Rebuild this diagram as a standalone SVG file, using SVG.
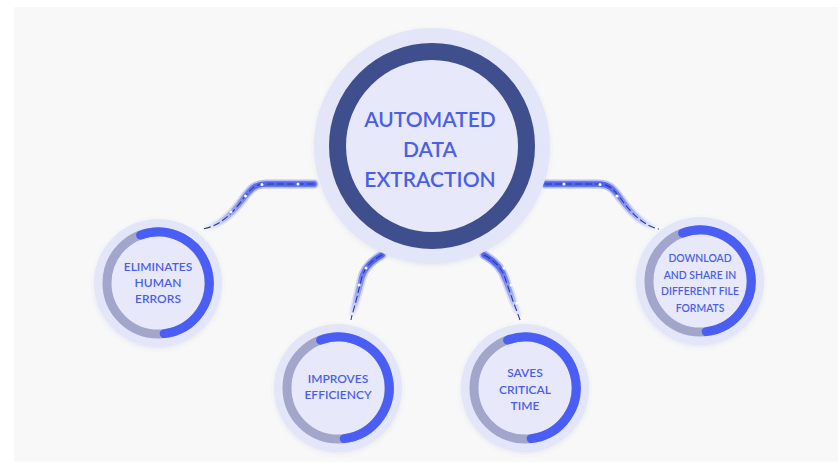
<svg xmlns="http://www.w3.org/2000/svg" width="838" height="471" viewBox="0 0 838 471">
<defs>
<filter id="sh" x="-20%" y="-20%" width="140%" height="140%">
<feDropShadow dx="0" dy="1.5" stdDeviation="2" flood-color="#5a64a0" flood-opacity="0.12"/>
</filter>
<linearGradient id="gL" gradientUnits="userSpaceOnUse" x1="262" y1="186" x2="205" y2="228">
<stop offset="0" stop-color="#5366f2" stop-opacity="1"/><stop offset="1" stop-color="#5366f2" stop-opacity="0"/>
</linearGradient>
<linearGradient id="gR" gradientUnits="userSpaceOnUse" x1="604" y1="186" x2="657" y2="228">
<stop offset="0" stop-color="#5366f2" stop-opacity="1"/><stop offset="1" stop-color="#5366f2" stop-opacity="0"/>
</linearGradient>
<linearGradient id="gBL" gradientUnits="userSpaceOnUse" x1="0" y1="262" x2="0" y2="318">
<stop offset="0" stop-color="#5366f2" stop-opacity="1"/><stop offset="1" stop-color="#5366f2" stop-opacity="0"/>
</linearGradient>
<linearGradient id="gBR" gradientUnits="userSpaceOnUse" x1="0" y1="262" x2="0" y2="318">
<stop offset="0" stop-color="#5366f2" stop-opacity="1"/><stop offset="1" stop-color="#5366f2" stop-opacity="0"/>
</linearGradient>
</defs>
<style>
.bg{fill:#f8f8f9}
.halo{fill:none;stroke-width:9;stroke-opacity:0.4;stroke-linecap:round}
.band{fill:none;stroke-width:5.5;stroke-linecap:round}
.dash{fill:none;stroke:#2d3c94;stroke-width:1.1;stroke-dasharray:7 3}
.dot{fill:#ffffff}
.outer{fill:#e3e5f8;filter:url(#sh)}
.inner{fill:#e7e9fb}
.ringbig{fill:none;stroke:#3f4e8d;stroke-width:17}
.gray{fill:none;stroke:#a2a6ca;stroke-width:9}
.blue{fill:none;stroke:#4a5ef6;stroke-width:9;stroke-linecap:round}
.t{font-family:Lato,"Liberation Sans",sans-serif;font-weight:600;fill:#4b5fe3;text-anchor:middle}
.tb{font-size:21px}
.ts{font-size:12px}
.tx{font-size:10.4px}
</style>
<rect width="838" height="471" fill="#ffffff"/>
<rect class="bg" x="14" y="7" width="824" height="455"/>
<g id="connectors">
<g id="c-left">
<path class="halo" stroke="url(#gL)" d="M314,184 L266,184 C254,184 250,190 243,199 C233,213 220,226 203,229"/>
<path class="band" stroke="url(#gL)" d="M314,184 L266,184 C254,184 250,190 243,199 C233,213 220,226 203,229"/>
<path class="dash" d="M314,184 L266,184 C254,184 250,190 243,199 C233,213 220,226 203,229"/>
<circle class="dot" cx="298" cy="184" r="1.5"/><circle class="dot" cx="262" cy="184.5" r="1.5"/><circle class="dot" cx="245.5" cy="196" r="1.5"/><circle class="dot" cx="231" cy="212" r="1.5"/>
</g>
<g id="c-right">
<path class="halo" stroke="url(#gR)" d="M545,184 L598,184 C610,184 614,190 621,199 C631,213 644,226 659,229"/>
<path class="band" stroke="url(#gR)" d="M545,184 L598,184 C610,184 614,190 621,199 C631,213 644,226 659,229"/>
<path class="dash" d="M545,184 L598,184 C610,184 614,190 621,199 C631,213 644,226 659,229"/>
<circle class="dot" cx="564" cy="184" r="1.5"/><circle class="dot" cx="600" cy="184.5" r="1.5"/><circle class="dot" cx="617" cy="196" r="1.5"/>
</g>
<g id="c-bl">
<path class="halo" stroke="url(#gBL)" d="M382,255 C369,262 363,270 361,281 L356,301 C354,309 352,314 351,320"/>
<path class="band" stroke="url(#gBL)" d="M382,255 C369,262 363,270 361,281 L356,301 C354,309 352,314 351,320"/>
<path class="dash" d="M382,255 C369,262 363,270 361,281 L356,301 C354,309 352,314 351,320"/>
<circle class="dot" cx="366" cy="268" r="1.5"/><circle class="dot" cx="359" cy="285" r="1.5"/>
</g>
<g id="c-br">
<path class="halo" stroke="url(#gBR)" d="M484,255 C497,262 503,270 506,281 L513,301 C516,309 518,314 520,320"/>
<path class="band" stroke="url(#gBR)" d="M484,255 C497,262 503,270 506,281 L513,301 C516,309 518,314 520,320"/>
<path class="dash" d="M484,255 C497,262 503,270 506,281 L513,301 C516,309 518,314 520,320"/>
<circle class="dot" cx="504" cy="268" r="1.5"/><circle class="dot" cx="511" cy="285" r="1.5"/><circle class="dot" cx="517" cy="303" r="1.5"/>
</g>
</g>
<g id="n-center">
<circle class="outer" cx="432" cy="146" r="118"/>
<circle class="inner" cx="432" cy="146" r="86"/>
<circle class="ringbig" cx="432" cy="146" r="94.5"/>
<text class="t tb" x="430" y="126.7">AUTOMATED</text>
<text class="t tb" x="430" y="156.7">DATA</text>
<text class="t tb" x="430" y="186.7">EXTRACTION</text>
</g>
<g id="n-errors">
<circle class="outer" cx="158" cy="283" r="64"/>
<circle class="inner" cx="158" cy="283" r="47"/>
<circle class="gray" cx="158" cy="283" r="51"/>
<path class="blue" d="M140.6,235.1 A51,51 0 1 1 164.2,333.6"/>
<text class="t ts" x="158" y="270.5">ELIMINATES</text>
<text class="t ts" x="158" y="286.5">HUMAN</text>
<text class="t ts" x="158" y="302.5">ERRORS</text>
</g>
<g id="n-efficiency">
<circle class="outer" cx="338" cy="388" r="64"/>
<circle class="inner" cx="338" cy="388" r="47"/>
<circle class="gray" cx="338" cy="388" r="51"/>
<path class="blue" d="M320.6,340.1 A51,51 0 1 1 344.2,438.6"/>
<text class="t ts" x="338" y="383">IMPROVES</text>
<text class="t ts" x="338" y="399">EFFICIENCY</text>
</g>
<g id="n-time">
<circle class="outer" cx="525" cy="388" r="64"/>
<circle class="inner" cx="525" cy="388" r="47"/>
<circle class="gray" cx="525" cy="388" r="51"/>
<path class="blue" d="M507.6,340.1 A51,51 0 1 1 531.2,438.6"/>
<text class="t ts" x="525" y="377">SAVES</text>
<text class="t ts" x="525" y="393.5">CRITICAL</text>
<text class="t ts" x="525" y="409.5">TIME</text>
</g>
<g id="n-download">
<circle class="outer" cx="700" cy="281" r="64"/>
<circle class="inner" cx="700" cy="281" r="47"/>
<circle class="gray" cx="700" cy="281" r="51"/>
<path class="blue" d="M682.6,233.1 A51,51 0 1 1 706.2,331.6"/>
<text class="t tx" x="700" y="262">DOWNLOAD</text>
<text class="t tx" x="700" y="278.5">AND SHARE IN</text>
<text class="t tx" x="700" y="295">DIFFERENT FILE</text>
<text class="t tx" x="700" y="311.5">FORMATS</text>
</g>
</svg>
